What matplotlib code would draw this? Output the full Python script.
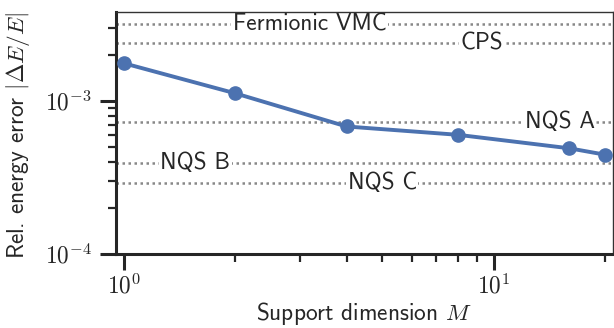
import numpy as np
import matplotlib
matplotlib.use("Agg")
import matplotlib.pyplot as plt
from matplotlib.ticker import FuncFormatter, NullFormatter

plt.rcParams['font.family'] = ['cmss10', 'DejaVu Sans']
plt.rcParams['mathtext.fontset'] = 'cm'
plt.rcParams['axes.unicode_minus'] = False

M = [1, 2, 4, 8, 16, 20]
err = [1.76e-3, 1.12e-3, 6.8e-4, 6.0e-4, 4.9e-4, 4.45e-4]

ref_names = ['Fermionic VMC', 'CPS', 'NQS A', 'NQS B', 'NQS C']
ref_vals = [3.17e-3, 2.38e-3, 7.32e-4, 3.92e-4, 2.92e-4]
ref_xpos = [3.18, 9.3, 15.1, 1.56, 5.0]

fs = 16.8

fig = plt.figure(figsize=(6.14, 3.28), dpi=100)
ax = fig.add_axes([0.189, 0.226, 0.809, 0.737])

for name, val, xp in zip(ref_names, ref_vals, ref_xpos):
    ax.axhline(val, color='#888888', ls=(0, (1, 1.4)), lw=1.8, zorder=1)
    ax.text(xp, val, name, ha='center', va='center', fontsize=fs, color='#262626',
            bbox=dict(facecolor='white', edgecolor='none', pad=1.0), zorder=2)

ax.plot(M, err, '-o', color='#4C72B0', lw=2.8, ms=9.5, zorder=3, clip_on=False)

ax.set_xscale('log')
ax.set_yscale('log')
ax.set_xlim(0.952, 21)
ax.set_ylim(1e-4, 3.8e-3)

pow_fmt = FuncFormatter(lambda v, p: r'$10^{%d}$' % int(round(np.log10(v))))
ax.xaxis.set_major_formatter(pow_fmt)
ax.yaxis.set_major_formatter(pow_fmt)
ax.xaxis.set_minor_formatter(NullFormatter())
ax.yaxis.set_minor_formatter(NullFormatter())

for s in ['left', 'bottom']:
    ax.spines[s].set_linewidth(2.2)
    ax.spines[s].set_color('#262626')
for s in ['top', 'right']:
    ax.spines[s].set_linewidth(1.0)
    ax.spines[s].set_color('#333333')

ax.tick_params(which='major', length=11.5, width=2.2, color='#262626', labelsize=fs,
               labelcolor='#262626')
ax.tick_params(which='minor', length=6, width=1.6, color='#262626')
ax.tick_params(axis='x', which='major', pad=3)
ax.tick_params(axis='y', which='major', pad=6)

ax.set_xlabel('Support dimension $M$', fontsize=fs, color='#262626', va='baseline')
ax.xaxis.set_label_coords(0.499, -0.273)
ax.set_ylabel(r'Rel. energy error $|\Delta E/E|$', fontsize=fs, color='#262626')
ax.yaxis.set_label_coords(-0.169, 0.49)

fig.savefig('out.png', dpi=100)
